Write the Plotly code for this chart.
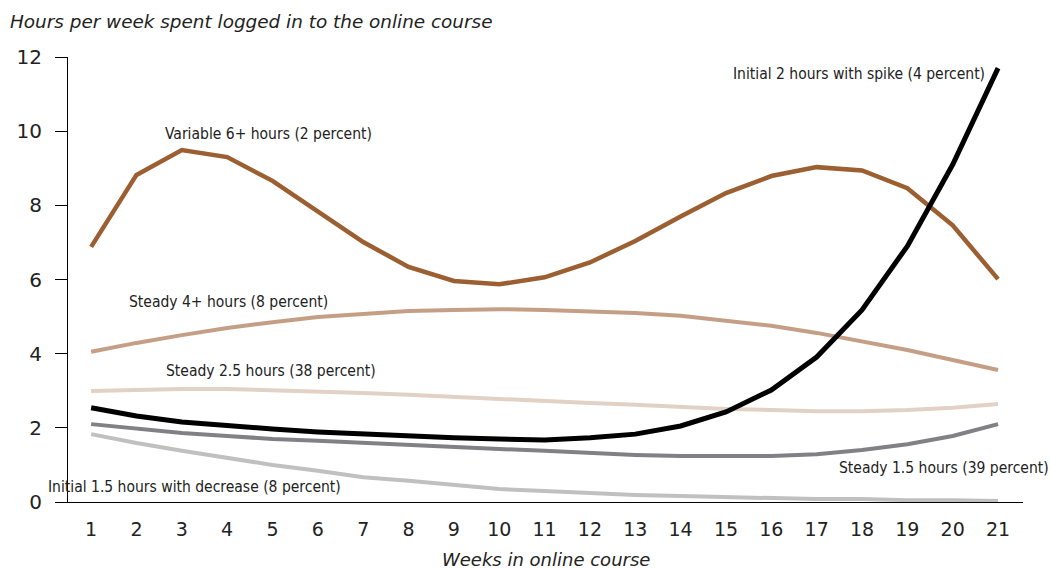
import plotly.graph_objects as go

weeks = list(range(1, 22))

variable_6plus = [6.88, 8.82, 9.49, 9.30, 8.66, 7.85, 7.01, 6.34, 5.96, 5.87, 6.06,
                  6.46, 7.04, 7.70, 8.33, 8.79, 9.03, 8.94, 8.46, 7.46, 6.01]
steady_4plus = [4.05, 4.29, 4.50, 4.69, 4.85, 4.99, 5.07, 5.15, 5.18, 5.20, 5.18,
                5.15, 5.10, 5.02, 4.88, 4.75, 4.56, 4.34, 4.10, 3.83, 3.56]
steady_2_5 = [2.99, 3.02, 3.05, 3.05, 3.02, 2.99, 2.94, 2.89, 2.83, 2.78, 2.72,
              2.67, 2.62, 2.56, 2.51, 2.48, 2.45, 2.45, 2.48, 2.54, 2.64]
steady_1_5 = [2.10, 1.97, 1.86, 1.78, 1.70, 1.65, 1.59, 1.54, 1.48, 1.43, 1.38,
              1.32, 1.27, 1.24, 1.24, 1.24, 1.29, 1.40, 1.56, 1.78, 2.10]
initial_1_5_decrease = [1.83, 1.59, 1.38, 1.19, 1.00, 0.84, 0.67, 0.57, 0.46, 0.35, 0.30,
                        0.24, 0.19, 0.16, 0.13, 0.11, 0.08, 0.08, 0.05, 0.05, 0.03]
initial_2_spike = [2.54, 2.32, 2.16, 2.05, 1.97, 1.89, 1.83, 1.78, 1.73, 1.70, 1.67,
                   1.73, 1.83, 2.05, 2.43, 3.02, 3.91, 5.18, 6.90, 9.10, 11.70]

y_ticks = [0, 2, 4, 6, 8, 10, 12]

# (values, colour, width, label, label x, label y)
series = [
    (initial_1_5_decrease, "#c0c0c1", 4, "Initial 1.5 hours with decrease (8 percent)", 3.27, 0.40),
    (steady_1_5, "#808085", 4, "Steady 1.5 hours (39 percent)", 19.81, 0.92),
    (steady_2_5, "#e2d1c5", 4, "Steady 2.5 hours (38 percent)", 4.97, 3.53),
    (steady_4plus, "#c49f86", 4, "Steady 4+ hours (8 percent)", 4.04, 5.39),
    (variable_6plus, "#9b5f32", 4.5, "Variable 6+ hours (2 percent)", 4.92, 9.92),
    (initial_2_spike, "#000000", 5, "Initial 2 hours with spike (4 percent)", 17.93, 11.54),
]

label_font = dict(family="Liberation Sans Narrow, DejaVu Sans Condensed, sans-serif",
                  size=15.5, color="#222222")
axis_font = dict(family="DejaVu Sans, sans-serif", color="#222222")

fig = go.Figure()
annotations = []
for values, colour, width, label, lx, ly in series:
    fig.add_trace(go.Scatter(
        x=weeks, y=values, mode="lines",
        line=dict(color=colour, width=width),
        name=label, showlegend=False, hoverinfo="x+y",
    ))
    annotations.append(dict(
        x=lx, y=ly, xref="x", yref="y", text=label, showarrow=False,
        xanchor="center", yanchor="middle", font=label_font,
    ))

# x-axis title, placed below the week labels
annotations.append(dict(
    x=0.5, y=-57 / 445, xref="paper", yref="paper",
    text="<i>Weeks in online course</i>", showarrow=False,
    xanchor="center", yanchor="middle", font=dict(axis_font, size=18),
))

fig.update_layout(
    width=1050, height=569,
    margin=dict(l=68, r=27, t=57, b=67, autoexpand=False),
    paper_bgcolor="white", plot_bgcolor="white",
    title=dict(
        text="<i>Hours per week spent logged in to the online course</i>",
        xref="container", yref="container", x=10 / 1050, y=1 - 22 / 569,
        xanchor="left", yanchor="middle",
        font=dict(axis_font, size=18.4),
    ),
    annotations=annotations,
    xaxis=dict(
        range=[0.49, 21.55], tickmode="array", tickvals=weeks,
        showgrid=False, zeroline=False, showline=True, linecolor="black", linewidth=1,
        ticks="", ticklabelstandoff=10, layer="below traces", automargin=False,
        tickfont=dict(axis_font, size=19),
    ),
    yaxis=dict(
        range=[0, 12], tickmode="array", tickvals=y_ticks,
        showgrid=False, zeroline=False, showline=True, linecolor="black", linewidth=1,
        ticks="outside", ticklen=12, tickcolor="black", tickwidth=1,
        ticklabelstandoff=9, layer="below traces", automargin=False,
        tickfont=dict(axis_font, size=20),
    ),
)

fig.write_html("out.html")
